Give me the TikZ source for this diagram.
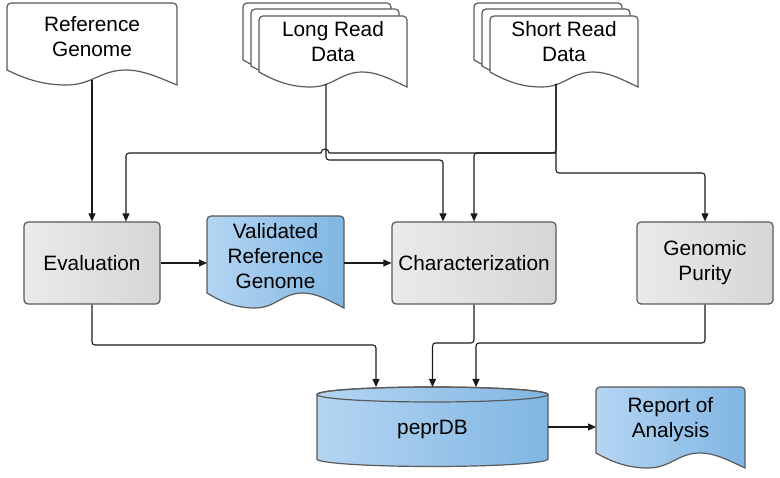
\documentclass[tikz,border=0pt]{standalone}
\usepackage{fontspec}
\setmainfont{Liberation Sans}
\usetikzlibrary{arrows.meta}
\definecolor{gtop}{HTML}{EAEAEA}
\definecolor{gbot}{HTML}{D6D6D6}
\definecolor{bl}{HTML}{B5D5F2}
\definecolor{br}{HTML}{80B6E3}
\definecolor{edge}{HTML}{5A5A5A}
\definecolor{ink}{HTML}{1A1A1A}
% #1 style, #2 x1, #3 ytop, #4 x2, #5 y of left bottom
\newcommand\docshape[5]{\path[#1] (#4,{#5+15}) [rounded corners=4pt] -- (#4,#3) -- (#2,#3) [sharp corners] -- (#2,#5)
 .. controls ({#2+0.12*(#4-#2)},{#5+10}) and ({#2+0.22*(#4-#2)},{#5+15}) .. ({#2+0.35*(#4-#2)},{#5+15})
 .. controls ({#2+0.5*(#4-#2)},{#5+15}) and ({#2+0.55*(#4-#2)},{#5}) .. ({#2+0.7*(#4-#2)},{#5})
 .. controls ({#2+0.8*(#4-#2)},{#5}) and ({#2+0.9*(#4-#2)},{#5+8}) .. (#4,{#5+15}) -- cycle;}
\begin{document}
\begin{tikzpicture}[x=1pt,y=-1pt,
  txt/.style={font=\fontsize{20.8}{25}\selectfont, align=center, text=black, inner sep=0pt},
  anch/.style={draw=none, inner sep=0pt, outer sep=0pt},
  boxst/.style={txt, draw=edge, line width=1.2pt, rounded corners=4pt, left color=gtop, right color=gbot, minimum height=82pt},
  pagest/.style={draw=edge, line width=1.2pt, fill=white},
  bluest/.style={draw=edge, line width=1.2pt, left color=bl, right color=br},
  conn/.style={draw=ink, line width=1.1pt, rounded corners=3pt},
  arr/.style={conn, -{Triangle[length=8pt,width=7pt]}}]
\fill[white] (0,0) rectangle (780,478);
\useasboundingbox (0,0) rectangle (780,478);

% documents
\docshape{pagest}{7}{3}{177}{70}
\docshape{pagest}{243}{3}{391}{60}
\docshape{pagest}{251}{9}{399}{66}
\docshape{pagest}{259}{16}{407}{72}
\docshape{pagest}{474}{3}{622}{60}
\docshape{pagest}{482}{9}{630}{66}
\docshape{pagest}{490}{16}{638}{72}
\docshape{bluest}{207}{216}{344}{293}
\docshape{bluest}{596}{387}{745}{453}

% cylinder
\path[bluest] (317,394.5) -- (317,459) arc[start angle=180, end angle=360, x radius=115.5pt, y radius=7.5pt]
  -- (548,394.5) arc[start angle=0, end angle=180, x radius=115.5pt, y radius=7.5pt] -- cycle;
\draw[draw=edge, line width=1.2pt] (432.5,394.5) ellipse [x radius=115.5pt, y radius=7.5pt];

% anchor nodes for shapes
\node[anch, minimum width=170pt, minimum height=77pt] (refg) at (92,41.5) {};
\node[anch, minimum width=148pt, minimum height=68pt] (lr) at (333,50) {};
\node[anch, minimum width=148pt, minimum height=68pt] (sr) at (564,50) {};
\node[anch, minimum width=137pt, minimum height=94pt] (val) at (275.5,263) {};
\node[anch, minimum width=231pt, minimum height=80pt] (db) at (432.5,427) {};
\node[anch, minimum width=149pt, minimum height=80pt] (rep) at (670.5,427) {};

% texts
\node[txt] (refgT) at (92,37) {Reference\\Genome};
\node[txt] (lrT) at (333,42) {Long Read\\Data};
\node[txt] (srT) at (564,42) {Short Read\\Data};
\node[txt] (valT) at (275.5,256) {Validated\\Reference\\Genome};
\node[txt] (dbT) at (432.5,430) {peprDB};
\node[txt] (repT) at (670.5,420) {Report of\\Analysis};

% process boxes
\node[boxst, minimum width=136pt] (eval) at (92,263) {Evaluation};
\node[boxst, minimum width=164pt] (char) at (474,263) {Characterization};
\node[boxst, minimum width=136pt] (gp) at (705,263) {Genomic\\Purity};

% connectors
\draw[arr] (refg.south) -- (eval.north);
\draw[conn] ([xshift=-8pt]sr.south) |- (329,153);
\draw[conn] (329,153) arc[start angle=0, end angle=180, radius=4pt];
\draw[arr] (321,153) -| ([xshift=34pt]eval.north);
\draw[arr] (556,153) -| (char.north);
\draw[arr] ([xshift=-8pt]sr.south) |- (600,173) -| (gp.north);
\draw[arr] ([xshift=-7pt]lr.south) |- (380,160) -| ([xshift=-31pt]char.north);
\draw[arr] (eval) -- (val);
\draw[arr] (val) -- (char);
\draw[arr] (eval.south) |- (300,345) -| ([xshift=-56.5pt]db.north);
\draw[arr] (char.south) |- (450,343) -| (db.north);
\draw[arr] (gp.south) |- (600,343) -| ([xshift=43.5pt]db.north);
\draw[arr] (db.east) -- (rep.west);
\end{tikzpicture}
\end{document}
